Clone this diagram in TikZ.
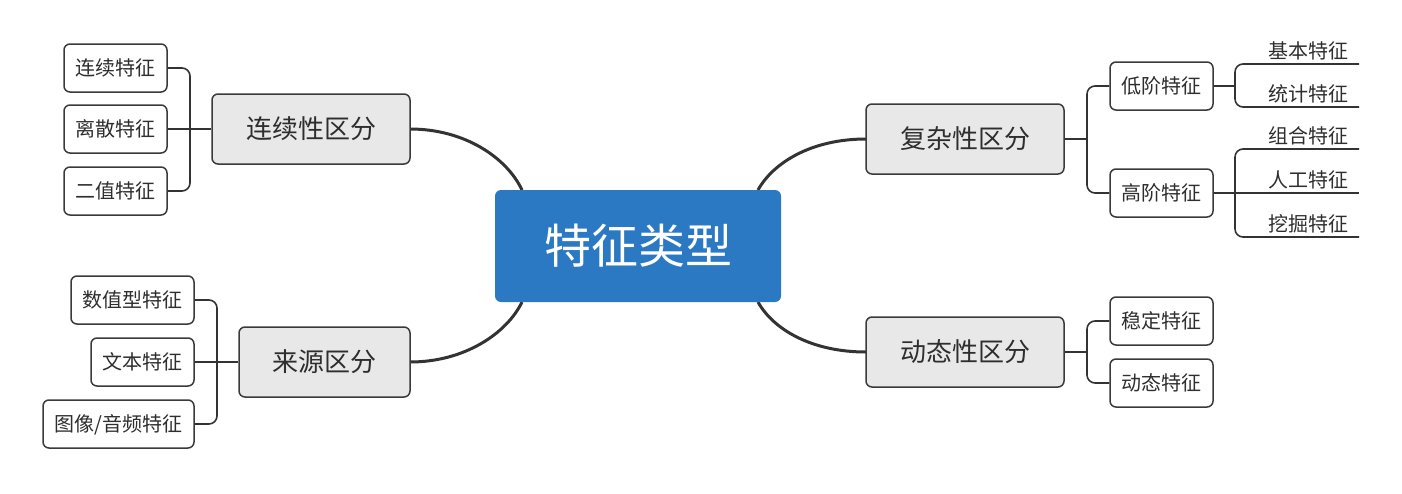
\documentclass[tikz,border=0pt]{standalone}
\usepackage{fontspec}
\setmainfont{Noto Sans CJK SC}
\definecolor{cblue}{HTML}{2B79C2}
\definecolor{midgray}{HTML}{E8E8E8}
\definecolor{bord}{HTML}{3A3A3A}
\definecolor{txt}{HTML}{2E2E2E}
\definecolor{linec}{HTML}{333333}
\begin{document}
\begin{tikzpicture}[x=1pt,y=-1pt,
  every node/.style={inner sep=0pt},
  central/.style={fill=cblue, rounded corners=6pt, minimum width=286pt, minimum height=112pt,
    text=white, font=\fontsize{47}{50}\selectfont, text height=41.4pt, text depth=5.6pt},
  midbox/.style={draw=bord, fill=midgray, line width=1.5pt, rounded corners=6pt,
    minimum height=70pt, text=txt, font=\fontsize{26}{30}\selectfont,
    text height=22.9pt, text depth=3.1pt},
  childbox/.style={draw=bord, fill=white, line width=1.5pt, rounded corners=6pt,
    minimum height=48pt, text=txt, font=\fontsize{20}{24}\selectfont,
    text height=17.6pt, text depth=2.4pt},
  leaf/.style={text=txt, font=\fontsize{20}{24}\selectfont, text height=17.6pt, text depth=2.4pt},
  mainlink/.style={draw=linec, line width=3pt},
  sublink/.style={draw=linec, line width=1.6pt, rounded corners=8pt}]
\useasboundingbox (0,0) rectangle (1402,493);

% connection points on the central box
\coordinate (ctl) at (522,190);
\coordinate (cbl) at (522,302);
\coordinate (ctr) at (758,190);
\coordinate (cbr) at (758,302);

% main curves
\draw[mainlink] (410,129) coordinate (mA) .. controls (465,129) and (507,158) .. (ctl);
\draw[mainlink] (410,362) coordinate (mB) .. controls (465,362) and (507,333) .. (cbl);
\draw[mainlink] (866,139) coordinate (mC) .. controls (811,139) and (773,163) .. (ctr);
\draw[mainlink] (866,352) coordinate (mD) .. controls (811,352) and (773,329) .. (cbr);

% central
\node[central] (c) at (638,246) {特征类型};

% mid boxes
\node[midbox, minimum width=198pt] (A) at (311,129) {连续性区分};
\node[midbox, minimum width=171pt] (B) at (324.5,362) {来源区分};
\node[midbox, minimum width=198pt] (C) at (965,139) {复杂性区分};
\node[midbox, minimum width=198pt] (D) at (965,352) {动态性区分};

% left children
\node[childbox, minimum width=103pt] (a1) at (115.5,68) {连续特征};
\node[childbox, minimum width=103pt] (a2) at (115.5,129) {离散特征};
\node[childbox, minimum width=103pt] (a3) at (115.5,191) {二值特征};

\node[childbox, minimum width=123pt] (b1) at (132.5,300) {数值型特征};
\node[childbox, minimum width=103pt] (b2) at (142.5,362) {文本特征};
\node[childbox, minimum width=151pt] (b3) at (118.5,424) {图像/音频特征};

% right children
\node[childbox, minimum width=103pt] (c1) at (1161.5,86) {低阶特征};
\node[childbox, minimum width=103pt] (c2) at (1161.5,193) {高阶特征};
\node[childbox, minimum width=103pt] (d1) at (1161.5,321) {稳定特征};
\node[childbox, minimum width=103pt] (d2) at (1161.5,383) {动态特征};

% leaves
\node[leaf] (l1) at (1308,51) {基本特征};
\node[leaf] (l2) at (1308,94) {统计特征};
\node[leaf] (l3) at (1308,136) {组合特征};
\node[leaf] (l4) at (1308,180) {人工特征};
\node[leaf] (l5) at (1308,224) {挖掘特征};

% bracket coordinates
\coordinate (kA) at (190,129);
\coordinate (kB) at (217,362);
\coordinate (kC) at (1087,139);
\coordinate (kD) at (1087,352);
\coordinate (k1) at (1235,86);
\coordinate (k2) at (1235,193);
\coordinate (e1) at (1359,64);
\coordinate (e2) at (1359,107);
\coordinate (e3) at (1359,149);
\coordinate (e4) at (1359,193);
\coordinate (e5) at (1359,237);

% brackets
\draw[sublink] (a1.east) -| (kA) |- (a3.east);
\draw[sublink] (A.west) -- (a2.east);
\draw[sublink] (b1.east) -| (kB) |- (b3.east);
\draw[sublink] (B.west) -- (b2.east);
\draw[sublink] (c1.west) -| (kC) |- (c2.west);
\draw[sublink] (C.east) -- (kC);
\draw[sublink] (d1.west) -| (kD) |- (d2.west);
\draw[sublink] (D.east) -- (kD);
\draw[sublink] (e1) -| (k1) |- (e2);
\draw[sublink] (c1.east) -- (k1);
\draw[sublink] (e3) -| (k2) |- (e5);
\draw[sublink] (c2.east) -- (e4);
\end{tikzpicture}
\end{document}
